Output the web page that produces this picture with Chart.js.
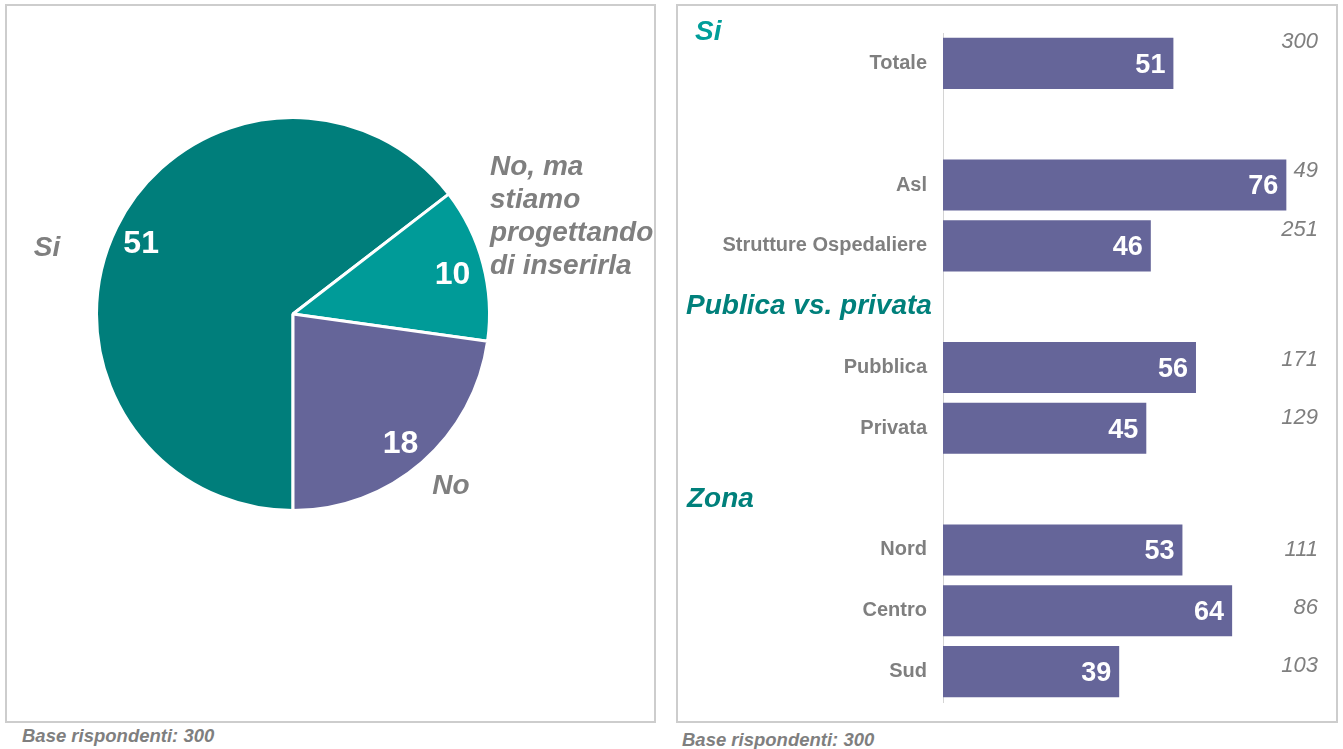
<!DOCTYPE html>
<html>
<head>
<meta charset="utf-8">
<script src="https://cdn.jsdelivr.net/npm/chart.js@4.4.1/dist/chart.umd.min.js"></script>
<style>
body{margin:0;background:#fff;width:1343px;height:749px;overflow:hidden;position:relative;font-family:"Liberation Sans",Arial,sans-serif}
.box{position:absolute;border:2px solid #cdcdcd;box-sizing:border-box}
#leftBox{left:5px;top:4px;width:651px;height:719px}
#rightBox{left:676px;top:4px;width:662px;height:719px}
.note{position:absolute;font-weight:bold;font-style:italic;font-size:18.5px;color:#7f7f7f;white-space:nowrap}
canvas{position:absolute}
#pieChart{left:0;top:0}
#barChart{left:677px;top:0}
</style>
</head>
<body>
<div class="box" id="leftBox"></div>
<div class="box" id="rightBox"></div>
<canvas id="pieChart" width="660" height="722"></canvas>
<canvas id="barChart" width="661" height="722"></canvas>
<div class="note" style="left:22px;top:725px">Base rispondenti: 300</div>
<div class="note" style="left:682px;top:729px">Base rispondenti: 300</div>

<script>
// pie data
const pieLabels = ['Si', 'No, ma stiamo progettando di inserirla', 'No'];
const pieValues = [51, 10, 18];

// bar data (blank rows are gaps between groups)
const barLabels = ['Totale', '', 'Asl', 'Strutture Ospedaliere', '', 'Pubblica', 'Privata', '', 'Nord', 'Centro', 'Sud'];
const barValues = [51, null, 76, 46, null, 56, 45, null, 53, 64, 39];
const barBases = [300, null, 49, 251, null, 171, 129, null, 111, 86, 103];
const groupTitles = ['Si', 'Publica vs. privata', 'Zona'];

const FONT = '"Liberation Sans", Arial, sans-serif';
const GREY = '#7f7f7f';

// labels on the pie
const pieLabelPlugin = {
	id: 'pieLabels',
	afterDatasetsDraw(chart, args, opts) {
		const ctx = chart.ctx;
		const arcs = chart.getDatasetMeta(0).data;
		ctx.save();
		ctx.textBaseline = 'middle';
		arcs.forEach((arc, i) => {
			const p = arc.getProps(['x', 'y', 'startAngle', 'endAngle', 'outerRadius']);
			const mid = (p.startAngle + p.endAngle) / 2;
			const r = p.outerRadius * 0.85;
			ctx.fillStyle = '#fff';
			ctx.font = 'bold 32px ' + FONT;
			ctx.textAlign = 'center';
			ctx.fillText(pieValues[i], p.x + Math.cos(mid) * r - 2, p.y + Math.sin(mid) * r + 4);

			// outside name
			const o = opts.outer[i];
			ctx.fillStyle = GREY;
			ctx.font = 'italic bold 28px ' + FONT;
			ctx.textAlign = o.align;
			o.lines.forEach((line, k) => {
				ctx.fillText(line, p.x + o.dx, p.y + o.dy + k * 33);
			});
		});
		ctx.restore();
	}
};

new Chart(document.getElementById('pieChart'), {
	type: 'pie',
	data: {
		labels: pieLabels,
		datasets: [{
			data: pieValues,
			backgroundColor: ['#007e7b', '#009b98', '#656599'],
			borderColor: '#ffffff',
			borderWidth: 3
		}]
	},
	options: {
		responsive: false,
		animation: false,
		rotation: 180,
		layout: { padding: { left: 95, top: 116, right: 169, bottom: 210 } },
		plugins: {
			legend: { display: false },
			tooltip: { enabled: false },
			pieLabels: {
				outer: [
					{ lines: ['Si'], dx: -246, dy: -66, align: 'center' },
					{ lines: ['No, ma', 'stiamo', 'progettando', 'di inserirla'], dx: 197, dy: -147, align: 'left' },
					{ lines: ['No'], dx: 158, dy: 172, align: 'center' }
				]
			}
		}
	},
	plugins: [pieLabelPlugin]
});

// values inside bars, bases at right, group titles
const barTextPlugin = {
	id: 'barText',
	afterDatasetsDraw(chart, args, opts) {
		const ctx = chart.ctx;
		const bars = chart.getDatasetMeta(0).data;
		const yScale = chart.scales.y;
		ctx.save();
		ctx.textBaseline = 'middle';
		bars.forEach((bar, i) => {
			if (barValues[i] == null) return;
			ctx.fillStyle = '#fff';
			ctx.font = 'bold 27px ' + FONT;
			ctx.textAlign = 'right';
			ctx.fillText(barValues[i], bar.x - 8, bar.y + 2);

			ctx.fillStyle = GREY;
			ctx.font = 'italic 22px ' + FONT;
			ctx.fillText(barBases[i], chart.width - 20, bar.y + opts.baseShift[i]);
		});
		ctx.font = 'italic bold 28px ' + FONT;
		ctx.textAlign = 'left';
		opts.titles.forEach((t, k) => {
			ctx.fillStyle = t.color;
			ctx.fillText(groupTitles[k], t.x, yScale.getPixelForValue(t.row) + t.dy);
		});
		ctx.restore();
	}
};

new Chart(document.getElementById('barChart'), {
	type: 'bar',
	data: {
		labels: barLabels,
		datasets: [{
			data: barValues,
			backgroundColor: '#656599',
			categoryPercentage: 0.84,
			barPercentage: 1
		}]
	},
	options: {
		responsive: false,
		animation: false,
		indexAxis: 'y',
		layout: { padding: { top: 33, bottom: 16, right: 11, left: 0 } },
		scales: {
			x: { display: false, min: 0, max: 85 },
			y: {
				afterFit(scale) { scale.width = 266; },
				grid: { display: false },
				border: { display: true, color: '#d4d4d4', width: 1 },
				ticks: {
					padding: 8,
					color: GREY,
					font: { family: FONT, size: 20, weight: 'bold' }
				}
			}
		},
		plugins: {
			legend: { display: false },
			tooltip: { enabled: false },
			barText: {
				baseShift: [-22, 0, -14, -16, 0, -8, -10, 0, 0, -3, -6],
				titles: [
					{ row: 0, dy: -31, x: 18, color: '#009e9a' },
					{ row: 4, dy: 0, x: 9, color: '#00807b' },
					{ row: 7, dy: 10, x: 10, color: '#00807b' }
				]
			}
		}
	},
	plugins: [barTextPlugin]
});
</script>
</body>
</html>
